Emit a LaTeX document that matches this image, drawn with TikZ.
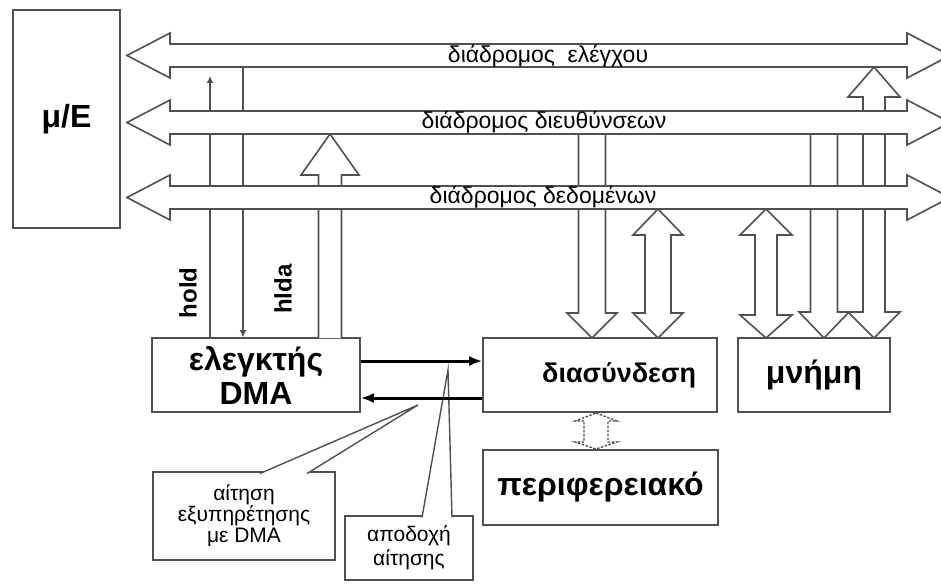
\documentclass[tikz,border=0pt]{standalone}
\usepackage{fontspec}
\setmainfont{Liberation Sans}
\usepackage{tikz}
\usetikzlibrary{arrows.meta,positioning,calc}
\definecolor{dmaLine}{RGB}{80,80,80}

% block arrows (coordinates in px of the drawing)
\newcommand{\busarrow}[1]{%
  \draw[blockar] (127,#1) -- (170,{#1-22.5}) -- (170,{#1-11.5}) -- (907,{#1-11.5})
    -- (907,{#1-22.5}) -- (950,#1) -- (907,{#1+22.5}) -- (907,{#1+11.5})
    -- (170,{#1+11.5}) -- (170,{#1+22.5}) -- cycle;}
\newcommand{\vblock}[6]{% x, shaft half, head half, y tail, y head base, y tip
  \draw[blockar] ({#1-#2},#4) -- ({#1-#2},#5) -- ({#1-#3},#5) -- (#1,#6)
    -- ({#1+#3},#5) -- ({#1+#2},#5) -- ({#1+#2},#4);}
\newcommand{\vdblock}[8][blockar]{% x, shaft half, head half, tip1, base1, base2, tip2
  \draw[#1] (#2,#5) -- ({#2+#4},#6) -- ({#2+#3},#6) -- ({#2+#3},#7) -- ({#2+#4},#7)
    -- (#2,#8) -- ({#2-#4},#7) -- ({#2-#3},#7) -- ({#2-#3},#6) -- ({#2-#4},#6) -- cycle;}

\begin{document}
\begin{tikzpicture}[x=1pt,y=-1pt,
  >={Latex[length=13pt,width=10pt]},
  blockar/.style={draw=dmaLine,line width=1.6pt,fill=white},
  faint/.style={draw=dmaLine,line width=1.3pt,dash pattern=on 2.5pt off 1.5pt},
  box/.style={draw=dmaLine,line width=1.6pt,fill=white,inner sep=0pt,align=center},
  note/.style={draw=dmaLine,line width=1.4pt,fill=white,inner sep=0pt,align=center,
               font=\fontsize{21}{21}\selectfont},
  sig/.style={draw=dmaLine,line width=1.6pt},
  bigar/.style={->,line width=3pt},
  big/.style={font=\bfseries\fontsize{32}{34}\selectfont},
  buslbl/.style={font=\fontsize{23}{23}\selectfont},
  siglbl/.style={font=\bfseries\fontsize{24}{24}\selectfont,rotate=90}
]
\useasboundingbox (0,0) rectangle (941,583);

% boxes
\node[box,big,minimum width=107pt,minimum height=218pt] (mpu) at (66.5,119) {μ/E};
\node[box,big,minimum width=208pt,minimum height=74pt] (dma) at (256,375) {ελεγκτής\\DMA};
\node[box,font=\bfseries\fontsize{27}{27}\selectfont,text width=192pt,align=right,
      inner xsep=21pt,minimum height=74pt] (intf) at (600,375) {διασύνδεση};
\node[box,big,minimum width=152pt,minimum height=74pt] (mem) at (814,375) {μνήμη};
\node[box,big,minimum width=235pt,minimum height=75pt] (peri) at (600.5,487.5) {περιφερειακό};

% hold / hlda
\coordinate (holdEnd) at (210,76);
\coordinate (hldaStart) at (243,67);
\draw[sig,-{Latex[length=7pt,width=7pt]}] (dma.north -| holdEnd) -- (holdEnd);
\draw[sig,-{Latex[length=7pt,width=7pt]}] (hldaStart) -- (dma.north -| hldaStart);
\node[siglbl] (holdL) at (188,293) {hold};
\node[siglbl] (hldaL) at (283,289) {hlda};

% vertical block arrows
\vblock{330}{11.5}{29}{338}{175}{134}
\vblock{592}{13.5}{25}{134}{313}{338}
\vdblock{658}{13}{25}{209}{235}{313}{338}
\vdblock{766}{11}{26}{209}{235}{315}{338}
\vblock{824}{13.5}{25}{134}{312}{338}
\vdblock{874}{11}{26}{67}{97}{312}{338}
\vdblock[faint]{596}{12}{21}{413}{421}{442}{449}

% buses
\busarrow{55.5}
\busarrow{122.5}
\busarrow{197.5}
\node[buslbl] (ctrlL) at (548,56) {διάδρομος\ \ ελέγχου};
\node[buslbl] (addrL) at (544,122) {διάδρομος διευθύνσεων};
\node[buslbl] (dataL) at (543,197) {διάδρομος δεδομένων};

% callouts
\node[note,minimum width=182pt,minimum height=88pt] (req) at (244,516)
  {αίτηση\\εξυπηρέτησης\\με DMA};
\coordinate (reqTip) at (418,405);
\draw[note] (260,473.5) -- (reqTip) -- (307,473.5);
\node[note,minimum width=128pt,minimum height=64pt,font=\fontsize{21}{24}\selectfont]
  (acc) at (409,548) {αποδοχή\\αίτησης};
\coordinate (accTip) at (448,370);
\draw[note] (422,517.5) -- (accTip) -- (452,517.5);

% request / acknowledge
\draw[bigar] ([yshift=14pt]dma.east) -- ([yshift=14pt]intf.west);
\draw[bigar] ([yshift=-23pt]intf.west) -- ([yshift=-23pt]dma.east);
\end{tikzpicture}
\end{document}
